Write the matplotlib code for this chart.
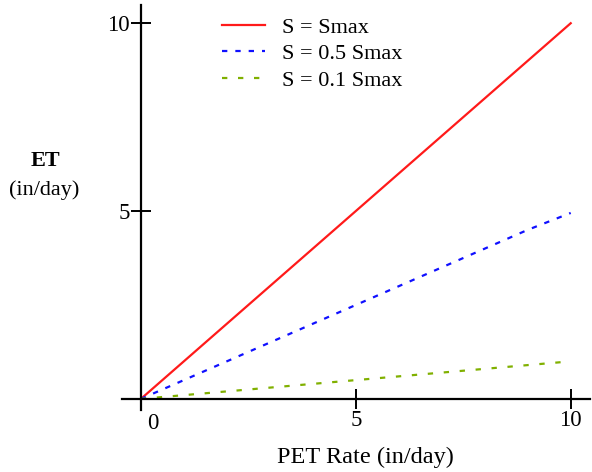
import matplotlib
matplotlib.use("Agg")
import matplotlib.pyplot as plt

# PET rate (in/day) and resulting ET (in/day) for three soil-moisture levels
pet_rate = [0, 1, 2, 3, 4, 5, 6, 7, 8, 9, 10]
et_smax = [0, 1.0, 2.0, 3.0, 4.0, 5.0, 6.0, 7.0, 8.0, 9.0, 10.0]
et_half = [0, 0.5, 1.0, 1.5, 2.0, 2.5, 3.0, 3.5, 4.0, 4.5, 4.95]
et_tenth = [0, 0.1, 0.2, 0.3, 0.4, 0.5, 0.6, 0.7, 0.8, 0.9, 1.0]
series_labels = ["S = Smax", "S = 0.5 Smax", "S = 0.1 Smax"]
x_ticks = [5, 10]
y_ticks = [5, 10]

plt.rcParams["font.family"] = ["Liberation Serif", "DejaVu Serif"]

fig = plt.figure(figsize=(5.92, 4.72), dpi=100)
ax = fig.add_axes([0.206, 0.131, 0.790, 0.858])

ax.plot(pet_rate, et_smax, color="#ff1a1a", lw=1.6, label=series_labels[0])
ax.plot(pet_rate, et_half, color="#1010ff", lw=1.6, dashes=(2.4, 3.6),
        label=series_labels[1])
ax.plot(pet_rate, et_tenth, color="#80b000", lw=1.6, dashes=(2.4, 4.8),
        label=series_labels[2])

ax.set_xlim(-0.44, 10.44)
ax.set_ylim(-0.3, 10.48)

for side in ("top", "right"):
    ax.spines[side].set_visible(False)
ax.spines["left"].set_position(("data", 0))
ax.spines["bottom"].set_position(("data", 0))
for side in ("left", "bottom"):
    ax.spines[side].set_linewidth(1.6)

ax.set_xticks(x_ticks)
ax.set_yticks(y_ticks)
ax.tick_params(direction="inout", length=14, width=1.4, labelsize=16.5, pad=1)

# origin label sits just right of the vertical axis
ax.text(0.28, -0.38, "0", ha="center", va="top", fontsize=16.5)

fig.text(0.076, 1 - 161 / 472, "ET", ha="center", va="center", fontsize=16,
         fontweight="bold")
fig.text(0.075, 1 - 190 / 472, "(in/day)", ha="center", va="center",
         fontsize=16)
fig.text(365 / 592, 1 - 457 / 472, "PET Rate (in/day)", ha="center",
         va="center", fontsize=17.5)

ax.legend(loc="upper left", bbox_to_anchor=(222 / 592, 1 - 17 / 472),
          bbox_transform=fig.transFigure, frameon=False, fontsize=16,
          handlelength=1.95, handletextpad=0.75, labelspacing=0.27,
          borderaxespad=0, borderpad=0)

fig.savefig("out.png", dpi=100)
